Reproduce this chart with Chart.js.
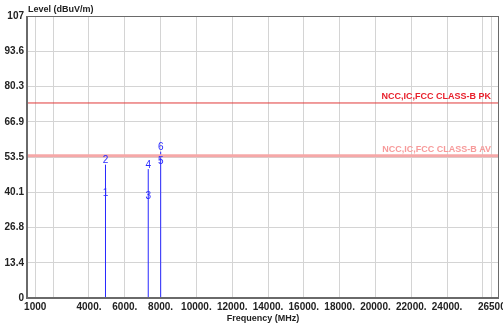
<!DOCTYPE html>
<html>
<head>
<meta charset="utf-8">
<script src="https://cdn.jsdelivr.net/npm/chart.js@4/dist/chart.umd.min.js"></script>
<style>
  html, body { margin: 0; padding: 0; background: #fff; }
  #wrap { width: 503px; height: 324px; }
</style>
</head>
<body>
<div id="wrap"><canvas id="emi"></canvas></div>
<script>
/* --------------- Data --------------------- */

const markerNo = ["1", "2", "3", "4", "5", "6"];
const markerFreq = [4924, 4924, 7311, 7311, 8006, 8006];
const markerLevel = [38.4, 50.6, 36.9, 48.9, 50.2, 55.5];

const limitNames = ["NCC,IC,FCC CLASS-B PK", "NCC,IC,FCC CLASS-B AV"];
const limitLevels = [74, 54];
const limitColors = ["#e03a3a", "#f6a8a8"];
const limitWidths = [1, 3];

const xTicks = [1000, 2000, 4000, 6000, 8000, 10000, 12000, 14000, 16000, 18000, 20000, 22000, 24000, 26000, 26500];
const xTickLabels = ["1000", "", "4000.", "6000.", "8000.", "10000.", "12000.", "14000.", "16000.", "18000.", "20000.", "22000.", "24000.", "", "26500"];
const yTickLabels = ["0", "13.4", "26.8", "40.1", "53.5", "66.9", "80.3", "93.6", "107"];

const xMin = 540, xMax = 26900;
const yMin = 0, yMax = 107;

/* --------------- Datasets --------------------- */

// one stem per frequency, from 0 up to the highest reading there
const stemData = [];
const freqs = [...new Set(markerFreq)];
freqs.forEach((f) => {
  let top = 0;
  markerFreq.forEach((mf, i) => { if (mf == f) top = Math.max(top, markerLevel[i]); });
  stemData.push({ x: f, y: 0 }, { x: f, y: top }, { x: f, y: null });
});

const datasets = limitLevels.map((lv, i) => ({
  data: [{ x: xMin, y: lv }, { x: xMax, y: lv }],
  borderColor: limitColors[i],
  borderWidth: limitWidths[i],
  pointRadius: 0,
}));
datasets.push({
  data: stemData,
  borderColor: "#2828ff",
  borderWidth: 1,
  pointRadius: 0,
  spanGaps: false,
});

/* --------------- Text plugin --------------------- */

const textPlugin = {
  id: "textPlugin",
  afterDatasetsDraw(chart) {
    const ctx = chart.ctx;
    const xs = chart.scales.x, ys = chart.scales.y;
    const area = chart.chartArea;
    ctx.save();
    // frame
    ctx.strokeStyle = "#6a6a6a";
    ctx.lineWidth = 1;
    ctx.strokeRect(area.left + 0.5, area.top + 0.5, area.right - area.left - 1, area.bottom - area.top - 1);
    ctx.lineWidth = 2;
    ctx.beginPath();
    ctx.moveTo(area.left, area.top);
    ctx.lineTo(area.left, area.bottom);
    ctx.lineTo(area.right, area.bottom);
    ctx.stroke();

    // limit names
    ctx.font = "bold 9px 'Liberation Sans', Arial";
    ctx.textAlign = "right";
    ctx.textBaseline = "bottom";
    limitNames.forEach((name, i) => {
      ctx.fillStyle = i == 0 ? "#e8202c" : "#f79a9a";
      ctx.fillText(name, area.right - 8, ys.getPixelForValue(limitLevels[i]) - 2);
    });

    // marker numbers
    ctx.font = "10px 'Liberation Sans', Arial";
    ctx.textAlign = "center";
    ctx.fillStyle = "#2828ff";
    markerNo.forEach((n, i) => {
      ctx.fillText(n, xs.getPixelForValue(markerFreq[i]), ys.getPixelForValue(markerLevel[i]) + 1);
    });

    // y axis title
    ctx.font = "bold 9px 'Liberation Sans', Arial";
    ctx.fillStyle = "#222";
    ctx.textAlign = "left";
    ctx.textBaseline = "alphabetic";
    ctx.fillText("Level (dBuV/m)", area.left + 1, area.top - 4);
    ctx.restore();
  },
};

/* --------------- Chart --------------------- */

new Chart(document.getElementById("emi"), {
  type: "line",
  data: { datasets: datasets },
  plugins: [textPlugin],
  options: {
    responsive: true,
    maintainAspectRatio: false,
    animation: false,
    layout: { padding: { top: 16, right: 4, left: 0, bottom: 0 } },
    plugins: { legend: { display: false }, tooltip: { enabled: false } },
    scales: {
      x: {
        type: "linear",
        min: xMin,
        max: xMax,
        afterBuildTicks: (scale) => { scale.ticks = xTicks.map((v) => ({ value: v })); },
        afterFit: (scale) => { scale.height = 26; scale.paddingLeft = 0; scale.paddingRight = 0; },
        grid: { color: "#d4d4d4", drawTicks: false },
        border: { display: false },
        ticks: {
          autoSkip: false,
          maxRotation: 0,
          padding: 3,
          color: "#222",
          font: { family: "'Liberation Sans', Arial", size: 10, weight: "bold" },
          callback: (v, i) => xTickLabels[i],
        },
        title: {
          display: true,
          text: "Frequency (MHz)",
          color: "#222",
          padding: 0,
          font: { family: "'Liberation Sans', Arial", size: 9, weight: "bold" },
        },
      },
      y: {
        min: yMin,
        max: yMax,
        afterBuildTicks: (scale) => { scale.ticks = yTickLabels.map((t, i) => ({ value: (yMax / 8) * i })); },
        afterFit: (scale) => { scale.width = 27; scale.paddingTop = 0; scale.paddingBottom = 0; },
        grid: { color: "#d4d4d4", drawTicks: false },
        border: { display: false },
        ticks: {
          padding: 3,
          color: "#222",
          font: { family: "'Liberation Sans', Arial", size: 10, weight: "bold" },
          callback: (v, i) => yTickLabels[i],
        },
      },
    },
  },
});
</script>
</body>
</html>
